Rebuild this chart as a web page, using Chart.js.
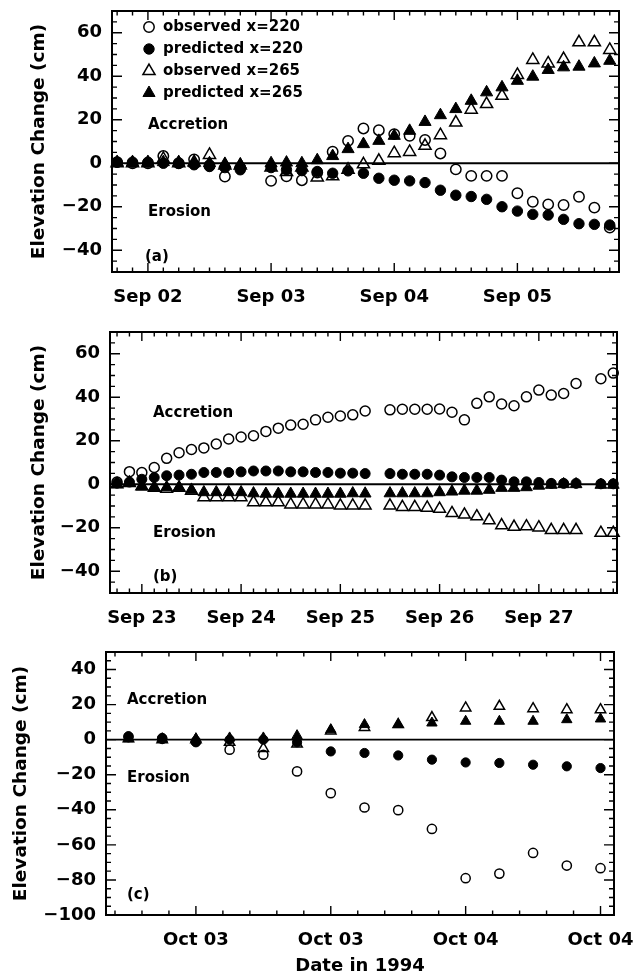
<!DOCTYPE html>
<html>
<head>
<meta charset="utf-8">
<script src="https://cdn.jsdelivr.net/npm/chart.js@4.4.1/dist/chart.umd.min.js"></script>
<style>
  html, body { margin: 0; padding: 0; background: #fff; }
  #wrap { position: relative; width: 644px; height: 975px; overflow: hidden; background: #fff; }
  canvas { position: absolute; left: 0; }
</style>
</head>
<body>
<div id="wrap">
  <canvas id="pa" width="644" height="318" style="top:0px"></canvas>
  <canvas id="pb" width="644" height="322" style="top:318px"></canvas>
  <canvas id="pc" width="644" height="335" style="top:640px"></canvas>
</div>
<script>
// ---------------- data ----------------
const seriesNames = ['observed x=220', 'predicted x=220', 'observed x=265', 'predicted x=265'];

// Panel (a): hours after Sep 02 00:00, 3-hourly samples
const hoursA = [-6, -3, 0, 3, 6, 9, 12, 15, 18,
                24, 27, 30, 33, 36, 39, 42, 45, 48, 51, 54, 57, 60, 63, 66, 69, 72, 75, 78, 81, 84, 87, 90];
const obsA220 = [0.5, 0, 0, 3.3, 0, 1.8, -1, -6.1, -2,
                 -8.1, -6, -7.8, -4.3, 5.3, 10.3, 16, 15.2, 13.4, 12.6, 10.7, 4.5, -2.8, -5.8, -5.8, -5.8, -13.8, -17.7, -18.9, -19.2, -15.4, -20.4, -29.6];
const predA220 = [0.5, 0.5, 0.5, 0, 0, -0.7, -1.5, -2, -3,
                  -2, -3, -3.4, -3.8, -4.6, -3.5, -4.6, -6.9, -7.8, -8.1, -8.9, -12.4, -14.7, -15.3, -16.6, -20, -22, -23.5, -23.8, -25.8, -27.8, -28.1, -28.4];
const obsA265 = [0, 0, 0, 2, 0, 0.5, 3.8, -1, -1,
                 -2, -4, -2, -6.5, -6, -3, -0.5, 1.1, 4.6, 5.2, 8, 12.9, 18.7, 24.6, 27.2, 31, 40.6, 47.5, 45.9, 47.9, 55.6, 55.6, 52.1];
const predA265 = [0.5, 0.5, 0.5, 0.5, 0.5, 0, 0, -0.3, -0.6,
                  0, 0.3, 0, 1.4, 3.3, 6.5, 8.8, 10.3, 12.6, 14.9, 19, 22.1, 24.9, 28.7, 32.6, 34.9, 37.9, 39.8, 42.9, 44.1, 44.4, 45.9, 47.1];
const xTicksA = [0, 24, 48, 72];
const xLabelsA = ['Sep 02', 'Sep 03', 'Sep 04', 'Sep 05'];

// Panel (b): hours after Sep 23 00:00
const hoursB = [-6, -3, 0, 3, 6, 9, 12, 15, 18, 21, 24, 27, 30, 33, 36, 39, 42, 45, 48, 51, 54,
                60, 63, 66, 69, 72, 75, 78, 81, 84, 87, 90, 93, 96, 99, 102, 105,
                111, 114];
const obsB220 = [1, 5.8, 5.4, 7.7, 11.9, 14.5, 16, 16.7, 18.5, 20.8, 21.7, 22.3, 24.3, 25.8, 27.2, 27.6, 29.6, 30.8, 31.4, 31.9, 33.7,
                 34.2, 34.5, 34.5, 34.5, 34.6, 33.1, 29.6, 37.2, 40.2, 36.9, 36.1, 40.2, 43.3, 41, 41.7, 46.3,
                 48.5, 51.1];
const predB220 = [0.5, 1, 2.3, 3.1, 3.9, 4.2, 4.6, 5.4, 5.4, 5.4, 5.7, 6.1, 6.1, 6.1, 5.7, 5.7, 5.4, 5.4, 5.1, 5.1, 4.9,
                  4.9, 4.6, 4.6, 4.6, 4.2, 3.4, 3.1, 3.1, 3.1, 1.9, 1.1, 1.1, 0.8, 0.4, 0.4, 0.4,
                  0.2, 0.2];
const obsB265 = [0, 0.5, -1, -1.7, -2.1, -1.7, -3, -6, -6, -6, -6, -8.3, -8.3, -8.3, -9.3, -9.3, -9.3, -9.3, -9.8, -9.8, -9.8,
                 -9.8, -10.5, -10.5, -10.8, -11.3, -13.3, -14, -14.8, -16.6, -18.9, -19.6, -19.4, -19.9, -21.1, -21.1, -21.1,
                 -22.4, -22.4];
const predB265 = [0, 0.8, -1.1, -1.4, -1.4, -1.4, -2.6, -3.7, -3.7, -3.7, -3.7, -4.2, -4.4, -4.4, -4.4, -4.4, -4.4, -4.4, -4.4, -4.2, -4.3,
                  -4.2, -4.2, -4.2, -4.2, -3.7, -3.4, -3, -3, -2.6, -1.7, -1.7, -1.4, -0.7, -0.3, 0, 0,
                  -0.3, -0.3];
const xTicksB = [0, 24, 48, 72, 96];
const xLabelsB = ['Sep 23', 'Sep 24', 'Sep 25', 'Sep 26', 'Sep 27'];

// Panel (c): hours after Oct 03 00:00
const hoursC = [-6, -3, 0, 3, 6, 9, 12, 15, 18, 21, 24, 27, 30, 33, 36];
const obsC220  = [1.5, 0.5, -1, -5.7, -8.6, -18.1, -30.5, -38.7, -40.2, -50.9, -79, -76.4, -64.6, -71.8, -73.3];
const predC220 = [2, 1, -1.5, 0, 0, -1.5, -6.7, -7.6, -9, -11.4, -13, -13.3, -14.3, -15.2, -16.2];
const obsC265  = [0.5, 0, 0, -1.5, -5, -2.5, 5, 7, 8.6, 12.6, 18.1, 19, 17.7, 17.1, 17.1];
const predC265 = [0.5, 0.5, 0.5, 1, 1, 2.3, 5.7, 8.6, 8.6, 9.5, 10.5, 10.5, 10.5, 11.4, 11.8];
const xTicksC = [0, 12, 24, 36];
const xLabelsC = ['Oct 03', 'Oct 03', 'Oct 04', 'Oct 04'];

const yTicksAB = [-40, -20, 0, 20, 40, 60];
const yTicksC = [-100, -80, -60, -40, -20, 0, 20, 40];

// ---------------- drawing helpers ----------------
const FAMILY = 'DejaVu Sans';
const tickFont = { family: FAMILY, size: 18, weight: 'bold' };

function fmtY(v) { return v < 0 ? '\u2212' + Math.abs(v) : String(v); }

function makeSets(hours, series, sz) {
  return series.map((vals, k) => ({
    label: seriesNames[k],
    data: hours.map((h, i) => ({ x: h, y: vals[i] })),
    pointStyle: k < 2 ? 'circle' : 'triangle',
    pointRadius: k < 2 ? sz.c : sz.t,
    pointHoverRadius: k < 2 ? sz.c : sz.t,
    backgroundColor: k % 2 ? '#000' : 'rgba(0,0,0,0)',
    borderColor: '#000',
    borderWidth: k % 2 ? 1 : 1.5,
    clip: false
  }));
}

// Frame, inward tick marks, zero line, labels and legend inside the plot
const panelDecor = {
  id: 'panelDecor',
  beforeDatasetsDraw(chart, args, o) {
    const { ctx, chartArea: a, scales: { y } } = chart;
    const y0 = y.getPixelForValue(0);
    ctx.save();
    ctx.strokeStyle = '#000';
    ctx.lineWidth = 1.8;
    ctx.beginPath();
    ctx.moveTo(a.left, y0);
    ctx.lineTo(a.right, y0);
    ctx.stroke();
    ctx.restore();
  },
  afterDatasetsDraw(chart, args, o) {
    const { ctx, chartArea: a, scales: { x, y } } = chart;
    ctx.save();
    ctx.strokeStyle = '#000';
    ctx.lineWidth = 1.4;
    ctx.beginPath();
    // y ticks on both sides
    const yMajor = y.ticks.map(t => t.value);
    for (let v = Math.ceil(y.min / o.yMinor) * o.yMinor; v <= y.max + 1e-9; v += o.yMinor) {
      const p = y.getPixelForValue(v);
      const len = yMajor.some(m => Math.abs(m - v) < 1e-6) ? 10 : 5;
      ctx.moveTo(a.left, p); ctx.lineTo(a.left + len, p);
      ctx.moveTo(a.right, p); ctx.lineTo(a.right - len, p);
    }
    // x ticks on top and bottom
    const xMajor = x.ticks.map(t => t.value);
    for (let v = Math.ceil((x.min - 1e-9) / o.xMinor) * o.xMinor; v <= x.max + 1e-9; v += o.xMinor) {
      const p = x.getPixelForValue(v);
      const len = xMajor.some(m => Math.abs(m - v) < 1e-6) ? 9 : 4.5;
      ctx.moveTo(p, a.bottom); ctx.lineTo(p, a.bottom - len);
      ctx.moveTo(p, a.top); ctx.lineTo(p, a.top + len);
    }
    ctx.stroke();
    // frame
    ctx.lineWidth = 2;
    ctx.strokeRect(a.left, a.top, a.right - a.left, a.bottom - a.top);

    // in-plot labels
    ctx.fillStyle = '#000';
    ctx.font = 'bold 15px "' + FAMILY + '"';
    ctx.textBaseline = 'middle';
    ctx.textAlign = 'left';
    (o.notes || []).forEach(n => ctx.fillText(n.text, a.left + n.dx, a.top + n.dy));

    // legend
    if (o.legend) {
      chart.data.datasets.forEach((ds, i) => {
        const cy = a.top + o.legend.dy + i * o.legend.row;
        ctx.fillStyle = ds.backgroundColor;
        ctx.strokeStyle = ds.borderColor;
        ctx.lineWidth = ds.borderWidth;
        Chart.helpers.drawPoint(ctx, {
          pointStyle: ds.pointStyle, radius: ds.pointRadius, borderWidth: ds.borderWidth, rotation: 0
        }, a.left + o.legend.dx, cy);
        ctx.fillStyle = '#000';
        ctx.fillText(ds.label, a.left + o.legend.tx, cy);
      });
    }
    ctx.restore();
  }
};

function makePanel(id, p) {
  return new Chart(document.getElementById(id), {
    type: 'scatter',
    data: { datasets: makeSets(p.hours, p.series, p.sizes) },
    options: {
      responsive: false,
      animation: false,
      devicePixelRatio: 1,
      events: [],
      layout: { padding: { top: p.top, right: p.right, left: 0, bottom: 0 } },
      scales: {
        x: {
          type: 'linear',
          min: p.xmin, max: p.xmax,
          grid: { display: false, drawTicks: false },
          border: { display: false },
          afterBuildTicks: s => { s.ticks = p.xTicks.map(v => ({ value: v })); },
          afterFit: s => { s.height = p.xHeight; s.paddingLeft = 0; s.paddingRight = 0; },
          ticks: {
            padding: 15, color: '#000', font: tickFont,
            maxRotation: 0, minRotation: 0, autoSkip: false,
            callback: (v, i) => p.xLabels[i]
          },
          title: p.xTitle
            ? { display: true, text: p.xTitle, color: '#000', font: tickFont, padding: { top: 0, bottom: -2 } }
            : { display: false }
        },
        y: {
          type: 'linear',
          min: p.ymin, max: p.ymax,
          grid: { display: false, drawTicks: false },
          border: { display: false },
          afterBuildTicks: s => { s.ticks = p.yTicks.map(v => ({ value: v })); },
          afterFit: s => { s.width = p.left; s.paddingTop = 0; s.paddingBottom = 0; },
          ticks: { padding: 10, color: '#000', font: tickFont, callback: v => fmtY(v) },
          title: {
            display: true, text: 'Elevation Change (cm)', color: '#000',
            font: { family: FAMILY, size: 18.5, weight: 'bold' },
            padding: { top: p.titlePad, bottom: 0 }
          }
        }
      },
      plugins: {
        legend: { display: false },
        tooltip: { enabled: false },
        panelDecor: { xMinor: p.xMinor, yMinor: 5, notes: p.notes, legend: p.legend }
      }
    },
    plugins: [panelDecor]
  });
}

makePanel('pa', {
  hours: hoursA, series: [obsA220, predA220, obsA265, predA265],
  sizes: { c: 5.2, t: 7 },
  xmin: -7, xmax: 91.8, xTicks: xTicksA, xLabels: xLabelsA, xMinor: 3,
  ymin: -50, ymax: 70, yTicks: yTicksAB,
  top: 11, right: 25, left: 112, xHeight: 46, titlePad: 28,
  notes: [
    { text: 'Accretion', dx: 36, dy: 114 },
    { text: 'Erosion', dx: 36, dy: 201 },
    { text: '(a)', dx: 33, dy: 246 }
  ],
  legend: { dx: 37, tx: 51, dy: 16, row: 22 }
});

makePanel('pb', {
  hours: hoursB, series: [obsB220, predB220, obsB265, predB265],
  sizes: { c: 5, t: 6.8 },
  xmin: -7.7, xmax: 114.9, xTicks: xTicksB, xLabels: xLabelsB, xMinor: 3,
  ymin: -50, ymax: 70, yTicks: yTicksAB,
  top: 14, right: 27, left: 110, xHeight: 47, titlePad: 28,
  notes: [
    { text: 'Accretion', dx: 43, dy: 81 },
    { text: 'Erosion', dx: 43, dy: 201 },
    { text: '(b)', dx: 43, dy: 245 }
  ]
});

makePanel('pc', {
  hours: hoursC, series: [obsC220, predC220, obsC265, predC265],
  sizes: { c: 4.6, t: 6 },
  xmin: -8, xmax: 37.2, xTicks: xTicksC, xLabels: xLabelsC, xMinor: 2.4,
  ymin: -100, ymax: 50, yTicks: yTicksC,
  top: 12, right: 30, left: 106, xHeight: 60, titlePad: 10,
  xTitle: 'Date in 1994',
  notes: [
    { text: 'Accretion', dx: 21, dy: 48 },
    { text: 'Erosion', dx: 21, dy: 126 },
    { text: '(c)', dx: 21, dy: 243 }
  ]
});
</script>
</body>
</html>
